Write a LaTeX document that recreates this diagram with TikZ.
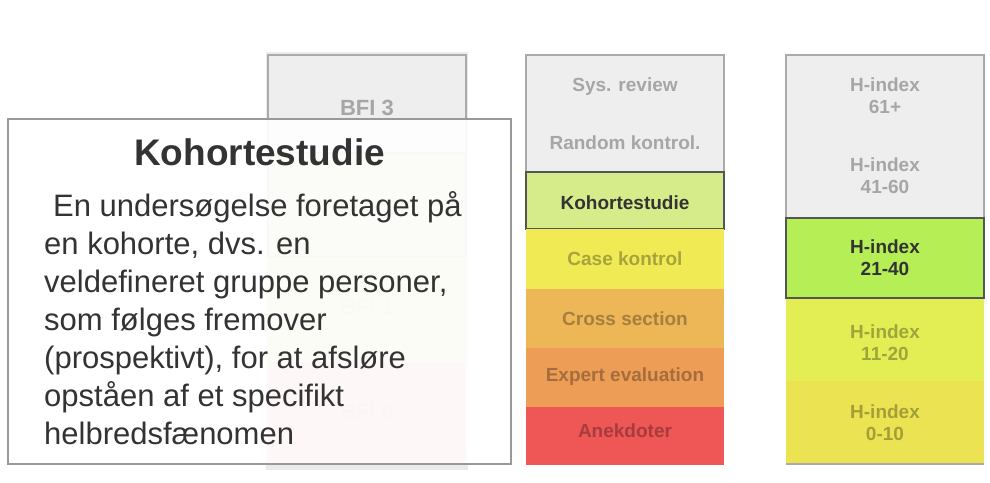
\documentclass[tikz,border=0pt]{standalone}
\usepackage{fontspec}
\setmainfont{Liberation Sans}
\definecolor{framegray}{HTML}{AAAAAA}
\definecolor{cellgray}{HTML}{EEEEEE}
\definecolor{darkframe}{HTML}{555555}
\definecolor{ink}{HTML}{333333}
\definecolor{cohort}{HTML}{D6EC8A}
\definecolor{casek}{HTML}{F0EB55}
\definecolor{cross}{HTML}{EDB657}
\definecolor{expert}{HTML}{EE9D57}
\definecolor{anek}{HTML}{EF5656}
\definecolor{hgreen}{HTML}{B5EE55}
\definecolor{hlime}{HTML}{E3EE55}
\definecolor{hyellow}{HTML}{ECE352}
\definecolor{bfitwo}{HTML}{D8E09A}
\definecolor{bfione}{HTML}{DCDCA0}
\definecolor{bfizero}{HTML}{F6A0A0}
\definecolor{halo}{HTML}{EBEBEB}
\definecolor{infoframe}{HTML}{999999}
\tikzset{
  cell/.style={rectangle, minimum width=198pt, inner sep=0pt, draw=none,
    font=\fontsize{19}{22}\selectfont\bfseries, text=black, text opacity=0.3,
    align=center},
  graycell/.style={cell, fill=cellgray, draw=framegray, line width=1.5pt},
  pickcell/.style={cell, draw=darkframe, line width=1.5pt, text=ink, text opacity=1},
  celltext/.style={font=\fontsize{19}{22}\selectfont\bfseries, text=black,
    text opacity=0.3, align=center, inner sep=0pt},
  % one-line labels, centred on their capitals
  capline/.style={celltext, text height=13.6pt, text depth=0pt},
  bfitext/.style={capline, font=\fontsize{22}{26}\selectfont\bfseries, text height=15.8pt},
  bodyline/.style={anchor=base west, inner sep=0pt, text=ink,
    font=\fontsize{31}{38}\selectfont}
}
\begin{document}
\begin{tikzpicture}[x=1pt,y=-1pt]
\useasboundingbox (0,0) rectangle (990,482);

% ---- BFI column (behind the info card)
\fill[halo] (266,52) rectangle (468,470);
\node[graycell, minimum height=98pt] (bfi3) at (367,104) {};
\node[bfitext] (bfi3t) at (367,108) {BFI 3};
\node[cell, fill=bfitwo, draw=framegray, line width=1.5pt, minimum height=104pt] (bfi2) at (367,205) {};
\node[cell, fill=bfione, minimum height=105pt] (bfi1) at (367,309.5) {};
\node[bfitext, text opacity=0.12] (bfi1t) at (367,307) {BFI 1};
\node[cell, fill=bfizero, minimum height=102pt] (bfi0) at (367,413) {};
\node[bfitext, text opacity=0.12] (bfi0t) at (367,412) {BFI 0};

% ---- study design column
\node[graycell, minimum height=117pt] (mtop) at (625,113.5) {};
\node[capline] (sys) at (625,85) {Sys. review};
\node[capline] (rct) at (625,143) {Random kontrol.};
\node[pickcell, fill=cohort, minimum height=57pt] (koh) at (625,200.5) {};
\node[capline, text=ink, text opacity=1] (koht) at (625,202.5) {Kohortestudie};
\node[cell, fill=casek, minimum height=60pt] (case) at (625,259) {};
\node[capline] (caset) at (625,259) {Case kontrol};
\node[cell, fill=cross, minimum height=59pt] (cross) at (625,318.5) {};
\node[capline] (crosst) at (625,319) {Cross section};
\node[cell, fill=expert, minimum height=59pt] (expert) at (625,377.5) {};
\node[capline] (expertt) at (625,375) {Expert evaluation};
\node[cell, fill=anek, minimum height=58pt] (anek) at (625,436) {};
\node[capline] (anekt) at (625,431) {Anekdoter};

% ---- H-index column
\node[graycell, minimum height=163pt] (htop) at (885,136.5) {};
\node[celltext] (h61) at (885,96) {H-index\\61+};
\node[celltext] (h41) at (885,176) {H-index\\41-60};
\node[cell, fill=hlime, minimum height=83pt] (h11) at (885,339.5) {};
\node[celltext] (h11t) at (885,342.5) {H-index\\11-20};
\node[cell, fill=hyellow, minimum height=83pt] (h0) at (885,422.5) {H-index\\0-10};
\draw[framegray, line width=1.5pt] (h0.south west) -- (h0.south east);
\node[pickcell, fill=hgreen, minimum height=80pt] (h21) at (885,258) {H-index\\21-40};

% ---- info card
\node[rectangle, minimum width=503pt, minimum height=345pt, inner sep=0pt,
  fill=white, fill opacity=0.92, draw=infoframe, line width=2pt] (info) at (259.5,291.5) {};
\node[anchor=base, inner sep=0pt, text=ink, font=\fontsize{37}{44}\selectfont\bfseries]
  (title) at (259.5,165) {Kohortestudie};
\node[bodyline] (l1) at (53,216) {En undersøgelse foretaget på};
\node[bodyline] (l2) at (44,254) {en kohorte, dvs. en};
\node[bodyline] (l3) at (44,292) {veldefineret gruppe personer,};
\node[bodyline] (l4) at (44,330) {som følges fremover};
\node[bodyline] (l5) at (44,368) {(prospektivt), for at afsløre};
\node[bodyline] (l6) at (44,406) {opståen af et specifikt};
\node[bodyline] (l7) at (44,444) {helbredsfænomen};
\end{tikzpicture}
\end{document}
